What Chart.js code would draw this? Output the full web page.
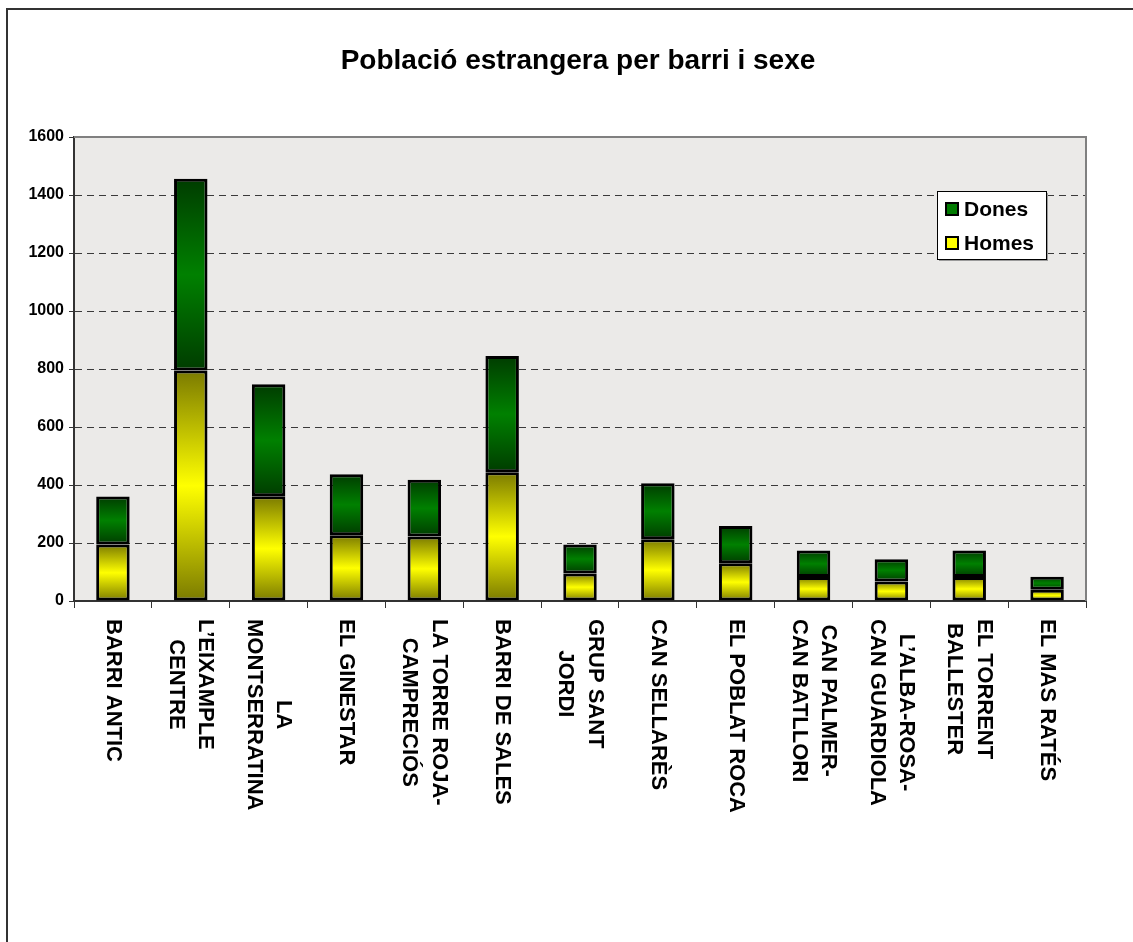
<!DOCTYPE html>
<html>
<head>
<meta charset="utf-8">
<script src="https://cdn.jsdelivr.net/npm/chart.js@4.4.0/dist/chart.umd.min.js"></script>
<style>
  html, body { margin: 0; padding: 0; background: #fff; }
  #wrap { width: 1133px; height: 942px; }
</style>
</head>
<body>
<div id="wrap"><canvas id="myChart" width="1133" height="942"></canvas></div>
<script>
var barris = [
    ["BARRI ANTIC"],
    ["L\u2019EIXAMPLE", "CENTRE"],
    ["LA", "MONTSERRATINA"],
    ["EL GINESTAR"],
    ["LA TORRE ROJA-", "CAMPRECI\u00d3S"],
    ["BARRI DE SALES"],
    ["GRUP SANT", "JORDI"],
    ["CAN SELLAR\u00c8S"],
    ["EL POBLAT ROCA"],
    ["CAN PALMER-", "CAN BATLLORI"],
    ["L\u2019ALBA-ROSA-", "CAN GUARDIOLA"],
    ["EL TORRENT", "BALLESTER"],
    ["EL MAS RAT\u00c9S"]
];
var homes = [195, 795, 361, 227, 222, 444, 95, 213, 130, 83, 67, 83, 39];
var dones = [165, 661, 386, 210, 196, 401, 100, 193, 129, 91, 77, 91, 45];
var yTicks = [0, 200, 400, 600, 800, 1000, 1200, 1400, 1600];

var titol = "Poblaci\u00f3 estrangera per barri i sexe";
var FONT = "Arial, 'Liberation Sans', sans-serif";

// vertical gradient per bar segment (dark - bright - dark)
function barGradient(dark, bright) {
    return function(c) {
        var chart = c.chart;
        if (!chart.chartArea || c.dataIndex === undefined) return bright;
        var y = chart.scales.y;
        var i = c.dataIndex;
        var lo = c.datasetIndex === 0 ? 0 : homes[i];
        var hi = c.datasetIndex === 0 ? homes[i] : homes[i] + dones[i];
        var g = chart.ctx.createLinearGradient(0, y.getPixelForValue(hi), 0, y.getPixelForValue(lo));
        g.addColorStop(0, dark);
        g.addColorStop(0.5, bright);
        g.addColorStop(1, dark);
        return g;
    };
}

var fonsPlugin = {
    id: 'fons',
    beforeDraw: function(chart) {
        var ctx = chart.ctx, a = chart.chartArea;
        ctx.save();
        ctx.fillStyle = '#ffffff';
        ctx.fillRect(0, 0, chart.width, chart.height);
        // outer frame (top and left)
        ctx.fillStyle = '#333333';
        ctx.fillRect(6, 8, chart.width - 6, 2);
        ctx.fillRect(6, 8, 2, chart.height - 8);
        // plot background
        ctx.fillStyle = '#ebeae8';
        ctx.fillRect(a.left, a.top, a.right - a.left, a.bottom - a.top);
        // title
        ctx.fillStyle = '#000';
        ctx.font = 'bold 28px ' + FONT;
        ctx.textAlign = 'center';
        ctx.textBaseline = 'middle';
        ctx.fillText(titol, 578, 61);
        ctx.restore();
    },
    beforeDatasetsDraw: function(chart) {
        var ctx = chart.ctx, a = chart.chartArea;
        ctx.save();
        ctx.strokeStyle = '#808080';
        ctx.lineWidth = 2;
        ctx.beginPath();
        ctx.moveTo(a.left, a.top);
        ctx.lineTo(a.right, a.top);
        ctx.lineTo(a.right, a.bottom);
        ctx.stroke();
        ctx.restore();
    },
    afterDraw: function(chart) {
        var ctx = chart.ctx, a = chart.chartArea;
        var xs = chart.scales.x;
        ctx.save();
        // rotated category labels, reading top to bottom
        ctx.fillStyle = '#000';
        ctx.font = 'bold 22px ' + FONT;
        ctx.textBaseline = 'middle';
        ctx.textAlign = 'center';
        var lh = 29.5;
        chart.data.labels.forEach(function(lines, i) {
            var x = xs.getPixelForValue(i);
            var w = 0;
            lines.forEach(function(t) { w = Math.max(w, ctx.measureText(t).width); });
            ctx.save();
            ctx.translate(x, a.bottom + 18);
            ctx.rotate(Math.PI / 2);
            lines.forEach(function(t, j) {
                ctx.fillText(t, w / 2, (j - (lines.length - 1) / 2) * lh);
            });
            ctx.restore();
        });

        // legend box
        var bx = 937, by = 191, bw = 109, bh = 68;
        ctx.fillStyle = '#9a9a9a';
        ctx.fillRect(bx + 2, by + 2, bw, bh);
        ctx.fillStyle = '#ffffff';
        ctx.fillRect(bx, by, bw, bh);
        ctx.strokeStyle = '#000';
        ctx.lineWidth = 1;
        ctx.strokeRect(bx + 0.5, by + 0.5, bw, bh);
        var items = [
            { text: chart.data.datasets[1].label, color: '#007a00', y: 209 },
            { text: chart.data.datasets[0].label, color: '#ffff00', y: 243 }
        ];
        items.forEach(function(it) {
            ctx.fillStyle = it.color;
            ctx.fillRect(946, it.y - 6, 12, 12);
            ctx.lineWidth = 2;
            ctx.strokeRect(946, it.y - 6, 12, 12);
            ctx.fillStyle = '#000';
            ctx.font = 'bold 21px ' + FONT;
            ctx.textAlign = 'left';
            ctx.textBaseline = 'middle';
            ctx.fillText(it.text, 964, it.y + 1);
        });
        ctx.restore();
    }
};

var ctx = document.getElementById('myChart');

var myChart = new Chart(ctx, {
    type: 'bar',
    data: {
        labels: barris,
        datasets: [{
            label: 'Homes',
            data: homes,
            backgroundColor: barGradient('#7a7a00', '#ffff00'),
            borderColor: '#000',
            borderWidth: 3,
            borderSkipped: false
        }, {
            label: 'Dones',
            data: dones,
            backgroundColor: barGradient('#003c00', '#008000'),
            borderColor: '#000',
            borderWidth: 3,
            borderSkipped: false
        }]
    },
    options: {
        responsive: false,
        animation: false,
        layout: { padding: { left: 0, right: 47, top: 137, bottom: 0 } },
        datasets: { bar: { categoryPercentage: 1, barPercentage: 0.43 } },
        plugins: {
            legend: { display: false },
            title: { display: false },
            tooltip: { enabled: false }
        },
        scales: {
            x: {
                stacked: true,
                offset: true,
                grid: {
                    offset: true,
                    drawOnChartArea: false,
                    drawTicks: true,
                    tickLength: 7,
                    tickColor: '#333',
                    tickWidth: 1
                },
                border: { display: true, color: '#333', width: 2 },
                ticks: { display: false },
                afterFit: function(s) { s.height = 341; }
            },
            y: {
                stacked: true,
                min: 0,
                max: 1600,
                afterBuildTicks: function(s) {
                    s.ticks = yTicks.map(function(v) { return { value: v }; });
                },
                grid: {
                    color: function(c) {
                        return (c.tick && (c.tick.value === 0 || c.tick.value === 1600)) ? 'rgba(0,0,0,0)' : '#3a3a3a';
                    },
                    lineWidth: 1,
                    tickLength: 5,
                    tickColor: '#333',
                    tickBorderDash: []
                },
                border: { display: true, color: '#333', width: 2, dash: [7, 5] },
                ticks: {
                    color: '#000',
                    padding: 5,
                    font: { family: FONT, size: 16, weight: 'bold' },
                    callback: function(v) { return String(v); }
                },
                afterFit: function(s) { s.width = 74; }
            }
        }
    },
    plugins: [fonsPlugin]
});
</script>
</body>
</html>
